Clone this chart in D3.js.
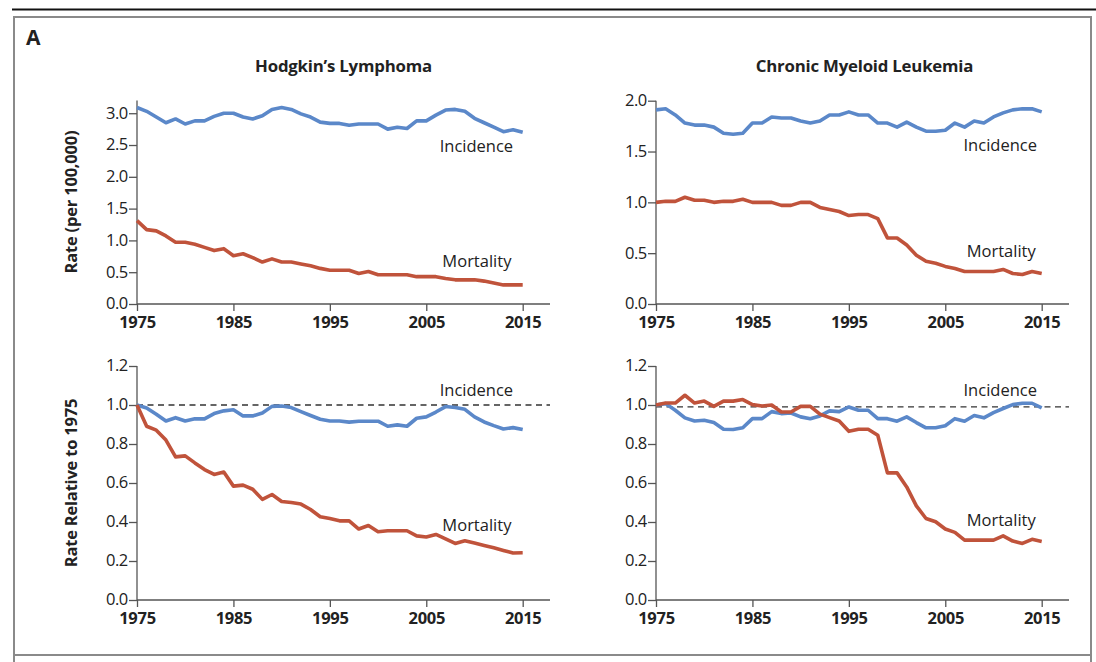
<!DOCTYPE html>
<html>
<head>
<meta charset="utf-8">
<script src="https://cdn.jsdelivr.net/npm/d3@7"></script>
<style>
  body { margin: 0; background: #fff; }
  text { font-family: "Open Sans", sans-serif; fill: #222; }
</style>
</head>
<body>
<script>
// years on the x axis
var years = [1975,1976,1977,1978,1979,1980,1981,1982,1983,1984,1985,1986,1987,1988,1989,
  1990,1991,1992,1993,1994,1995,1996,1997,1998,1999,2000,2001,2002,2003,2004,2005,
  2006,2007,2008,2009,2010,2011,2012,2013,2014,2015];
var xTicks = [1975, 1985, 1995, 2005, 2015];

// Hodgkin's lymphoma, rate per 100,000
var hlIncidence = [3.09,3.03,2.94,2.85,2.91,2.83,2.88,2.88,2.95,3.00,3.00,2.94,2.91,2.96,3.06,
  3.09,3.06,2.99,2.94,2.86,2.84,2.84,2.81,2.83,2.83,2.83,2.75,2.78,2.76,2.88,2.88,
  2.97,3.05,3.06,3.03,2.92,2.85,2.78,2.71,2.74,2.70];
var hlMortality = [1.31,1.17,1.15,1.07,0.97,0.97,0.94,0.89,0.84,0.87,0.76,0.79,0.73,0.66,0.71,
  0.66,0.66,0.63,0.60,0.56,0.53,0.53,0.53,0.48,0.51,0.46,0.46,0.46,0.46,0.43,0.43,
  0.43,0.40,0.38,0.38,0.38,0.36,0.33,0.30,0.30,0.30];

// chronic myeloid leukemia, rate per 100,000
var cmlIncidence = [1.91,1.92,1.86,1.78,1.76,1.76,1.74,1.68,1.67,1.68,1.78,1.78,1.84,1.83,1.83,
  1.80,1.78,1.80,1.86,1.86,1.89,1.86,1.86,1.78,1.78,1.74,1.79,1.74,1.70,1.70,1.71,
  1.78,1.74,1.80,1.78,1.84,1.88,1.91,1.92,1.92,1.89];
var cmlMortality = [1.00,1.01,1.01,1.05,1.02,1.02,1.00,1.01,1.01,1.03,1.00,1.00,1.00,0.97,0.97,
  1.00,1.00,0.95,0.93,0.91,0.87,0.88,0.88,0.84,0.65,0.65,0.58,0.48,0.42,0.40,0.37,
  0.35,0.32,0.32,0.32,0.32,0.34,0.30,0.29,0.32,0.30];

// rates relative to 1975
var hlIncidenceRel = [1.000,0.985,0.953,0.918,0.935,0.918,0.929,0.929,0.956,0.970,0.976,0.944,0.944,0.959,0.993,
  0.995,0.987,0.966,0.946,0.927,0.918,0.918,0.912,0.917,0.917,0.917,0.891,0.898,0.891,0.932,0.939,
  0.964,0.992,0.987,0.978,0.939,0.913,0.894,0.877,0.884,0.874];
var hlMortalityRel = [1.000,0.891,0.871,0.820,0.734,0.739,0.703,0.669,0.644,0.656,0.584,0.589,0.568,0.516,0.541,
  0.505,0.500,0.492,0.464,0.427,0.418,0.406,0.406,0.364,0.382,0.350,0.355,0.355,0.355,0.329,0.323,
  0.336,0.314,0.290,0.304,0.292,0.280,0.268,0.254,0.241,0.242];
var cmlIncidenceRel = [1.000,1.007,0.973,0.934,0.918,0.922,0.910,0.876,0.874,0.883,0.930,0.930,0.966,0.956,0.959,
  0.939,0.930,0.944,0.970,0.966,0.990,0.973,0.973,0.930,0.930,0.917,0.939,0.910,0.883,0.883,0.894,
  0.930,0.917,0.946,0.934,0.961,0.982,1.002,1.009,1.009,0.985];
var cmlMortalityRel = [1.000,1.010,1.010,1.050,1.010,1.020,0.993,1.020,1.020,1.028,1.002,0.995,1.000,0.964,0.964,
  0.993,0.993,0.953,0.935,0.918,0.865,0.876,0.876,0.845,0.652,0.652,0.580,0.483,0.418,0.401,0.364,
  0.347,0.307,0.307,0.307,0.307,0.329,0.302,0.290,0.311,0.300];

var rateTicks = { hl: [0,0.5,1.0,1.5,2.0,2.5,3.0], cml: [0,0.5,1.0,1.5,2.0] };
var relTicks = [0,0.2,0.4,0.6,0.8,1.0,1.2];

var blue = "#5b88c9", red = "#c0533b";

var svg = d3.select("body").append("svg")
  .attr("width", 1096)
  .attr("height", 662);

// frame
svg.append("line").attr("x1", 12).attr("x2", 1096).attr("y1", 9.5).attr("y2", 9.5)
  .attr("stroke", "#111").attr("stroke-width", 2);
svg.append("path").attr("d", "M14,670V17H1091V670")
  .attr("fill", "none").attr("stroke", "#8a8a8a").attr("stroke-width", 2);
svg.append("line").attr("x1", 14).attr("x2", 1091).attr("y1", 655).attr("y2", 655)
  .attr("stroke", "#8a8a8a").attr("stroke-width", 2);

svg.append("text").attr("x", 26).attr("y", 45)
  .style("font-size", "21px").style("font-weight", "bold").text("A");

svg.append("text").attr("x", 343.5).attr("y", 72).attr("text-anchor", "middle")
  .style("font-size", "16.8px").style("font-weight", "bold").style("letter-spacing", "-0.2px")
  .text("Hodgkin\u2019s Lymphoma");
svg.append("text").attr("x", 864.5).attr("y", 72).attr("text-anchor", "middle")
  .style("font-size", "16.8px").style("font-weight", "bold").style("letter-spacing", "-0.2px")
  .text("Chronic Myeloid Leukemia");

svg.append("text").attr("transform", "translate(77,202) rotate(-90)").attr("text-anchor", "middle")
  .style("font-size", "16.5px").style("font-weight", "bold").style("letter-spacing", "-0.2px")
  .text("Rate (per 100,000)");
svg.append("text").attr("transform", "translate(77,483) rotate(-90)").attr("text-anchor", "middle")
  .style("font-size", "16.5px").style("font-weight", "bold").style("letter-spacing", "-0.2px")
  .text("Rate Relative to 1975");

var panels = [
  { x0: 137, y0: 304, top: 100.5, max: 3.2, ticks: rateTicks.hl, inc: hlIncidence, mort: hlMortality,
    incLab: [2010.2, 2.39], mortLab: [2010.25, 0.58] },
  { x0: 656, y0: 304, top: 100.7, max: 2.0, ticks: rateTicks.cml, inc: cmlIncidence, mort: cmlMortality,
    incLab: [2010.7, 1.505], mortLab: [2010.8, 0.462] },
  { x0: 137, y0: 600, top: 366, max: 1.2, ticks: relTicks, inc: hlIncidenceRel, mort: hlMortalityRel,
    incLab: [2010.2, 1.046], mortLab: [2010.25, 0.354], ref: 1.0 },
  { x0: 656, y0: 600, top: 366, max: 1.2, ticks: relTicks, inc: cmlIncidenceRel, mort: cmlMortalityRel,
    incLab: [2010.7, 1.046], mortLab: [2010.8, 0.379], ref: 0.99 }
];

panels.forEach(function(p){
  var x = d3.scaleLinear().domain([1975, 2015]).range([p.x0, p.x0 + 385.7]);
  var y = d3.scaleLinear().domain([0, p.max]).range([p.y0, p.top]);
  var xEnd = p.x0 + 413;

  var g = svg.append("g");

  if (p.ref !== undefined) {
    g.append("line")
      .attr("x1", x(1975)).attr("x2", xEnd)
      .attr("y1", y(p.ref)).attr("y2", y(p.ref))
      .attr("stroke", "#333").attr("stroke-width", 1.3)
      .attr("stroke-dasharray", "6,4.5");
  }

  // x axis
  var xa = g.append("g").attr("transform", "translate(0," + p.y0 + ")")
    .call(d3.axisBottom(x).tickValues(xTicks).tickFormat(d3.format("d")).tickSize(7).tickSizeOuter(0));
  xa.select(".domain").attr("d", "M" + p.x0 + ",0H" + xEnd);
  xa.selectAll("line").attr("stroke", "#555").attr("stroke-width", 1.3);
  xa.select(".domain").attr("stroke", "#555").attr("stroke-width", 1.3);
  xa.selectAll("text").attr("y", 12.5).attr("dy", "0.71em")
    .style("font-size", "16.5px").style("font-weight", "bold").style("fill", "#222")
    .style("font-family", "'Open Sans', sans-serif").style("letter-spacing", "-0.3px");

  // y axis
  var ya = g.append("g").attr("transform", "translate(" + p.x0 + ",0)")
    .call(d3.axisLeft(y).tickValues(p.ticks).tickFormat(d3.format(".1f")).tickSize(8).tickSizeOuter(0));
  ya.select(".domain").attr("d", "M0," + p.y0 + "V" + p.top);
  ya.selectAll("line").attr("stroke", "#555").attr("stroke-width", 1.3);
  ya.select(".domain").attr("stroke", "#555").attr("stroke-width", 1.3);
  ya.selectAll("text").attr("x", -9.5).attr("dy", "0.3em")
    .style("font-size", "16.5px").style("fill", "#222")
    .style("font-family", "'Open Sans', sans-serif").style("letter-spacing", "-0.6px");

  var line = d3.line()
    .x(function(d, i){ return x(years[i]); })
    .y(function(d){ return y(d); });

  g.append("path").datum(p.inc).attr("d", line)
    .attr("fill", "none").attr("stroke", blue).attr("stroke-width", 3.6)
    .attr("stroke-linejoin", "round");
  g.append("path").datum(p.mort).attr("d", line)
    .attr("fill", "none").attr("stroke", red).attr("stroke-width", 3.6)
    .attr("stroke-linejoin", "round");

  g.append("text").attr("x", x(p.incLab[0])).attr("y", y(p.incLab[1]))
    .attr("text-anchor", "middle").style("font-size", "16.5px").text("Incidence");
  g.append("text").attr("x", x(p.mortLab[0])).attr("y", y(p.mortLab[1]))
    .attr("text-anchor", "middle").style("font-size", "16.5px").text("Mortality");
});
</script>
</body>
</html>
